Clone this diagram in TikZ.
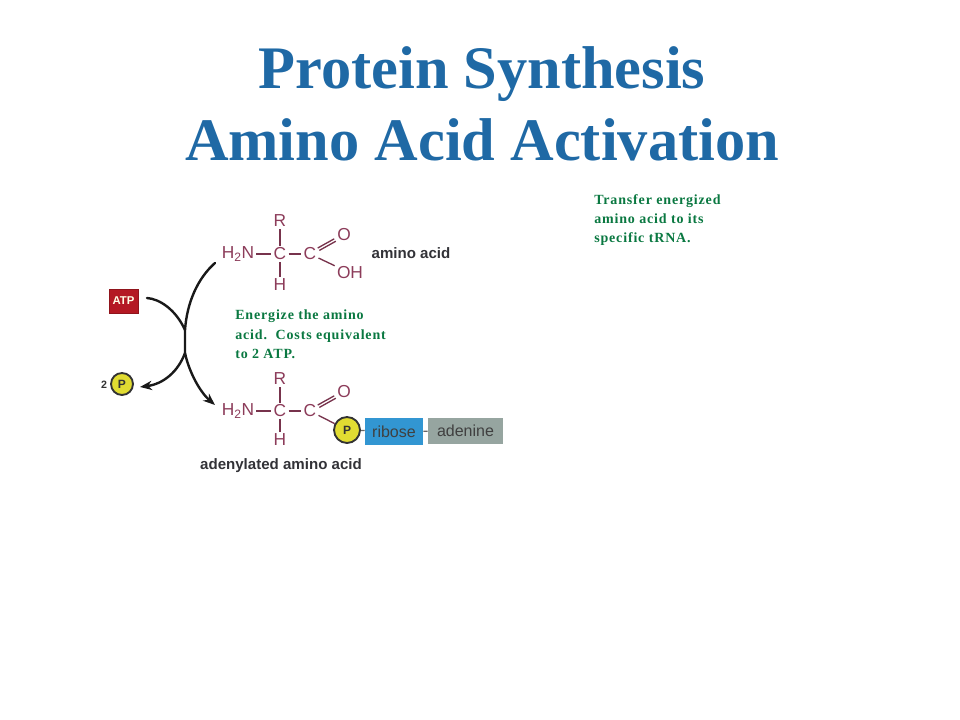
\documentclass[tikz,border=0pt]{standalone}
\usepackage{xcolor}
\usepackage{fontspec}
\setmainfont{Liberation Serif}
\newfontfamily\chemfont{Liberation Sans}
\usetikzlibrary{arrows.meta}
\definecolor{titleblue}{RGB}{31,105,165}
\definecolor{notegreen}{RGB}{10,120,65}
\definecolor{chemred}{RGB}{140,60,90}
\definecolor{atpred}{RGB}{180,25,35}
\definecolor{pyellow}{RGB}{225,220,50}
\definecolor{riboseblue}{RGB}{50,150,210}
\definecolor{adeninegray}{RGB}{150,165,160}
\definecolor{labelgray}{RGB}{50,50,55}
\tikzstyle{title} = [font=\fontsize{45.3}{54}\selectfont\bfseries, text=titleblue, align=center]
\tikzstyle{note} = [anchor=north west, inner sep=0pt, align=left, text=notegreen,
	font=\fontsize{10.5}{14.4}\selectfont\bfseries\addfontfeature{LetterSpace=6}]
\tikzstyle{atom} = [font=\fontsize{13}{14}\selectfont\chemfont, text=chemred, inner sep=1.5pt]
\tikzstyle{bond} = [draw=chemred!85!black, line width=1pt]
\tikzstyle{tag} = [font=\fontsize{11.3}{13}\selectfont\chemfont\bfseries, text=labelgray, inner sep=0pt]
\tikzstyle{phos} = [circle, draw=black!80, line width=1.4pt, fill=pyellow, inner sep=0pt,
	font=\fontsize{9}{10}\selectfont\chemfont\bfseries, text=black!80]
\tikzstyle{unit} = [rectangle, inner sep=0pt, font=\fontsize{12}{14}\selectfont\chemfont, text=black!75]
\tikzstyle{curve} = [draw=black!90, line width=1.8pt, line cap=round]
\begin{document}
\begin{tikzpicture}[x=.75pt,y=-.75pt]
\useasboundingbox (0,0) rectangle (960,720);

\node[title] (head) at (482,104) {Protein Synthesis\\Amino Acid Activation};

\node[note] (note1) at (594,194) {Transfer energized\\amino acid to its\\specific tRNA.};
\node[note] (note2) at (235,310) {Energize the amino\\acid.\ \ Costs equivalent\\to 2 ATP.};

% amino acid
\node[atom] (r1) at (280,221) {R};
\node[atom] (n1) at (238,254) {H\textsubscript{2}N};
\node[atom] (c1) at (280,254) {C};
\node[atom] (h1) at (280,285) {H};
\node[atom] (d1) at (310,254) {C};
\node[atom] (o1) at (344,235) {O};
\node[atom] (oh1) at (350,273) {OH};
\node[tag] (acid) at (411,253) {amino acid};

\draw[bond] (r1) -- (c1);
\draw[bond] (c1) -- (h1);
\draw[bond] (n1) -- (c1);
\draw[bond] (c1) -- (d1);
\draw[bond] (d1) -- (oh1);
\draw[bond,transform canvas={shift={(-.6pt,.9pt)}}] (d1) -- (o1);
\draw[bond,transform canvas={shift={(.6pt,-.9pt)}}] (d1) -- (o1);

% adenylated amino acid
\node[atom] (r2) at (280,379) {R};
\node[atom] (n2) at (238,411) {H\textsubscript{2}N};
\node[atom] (c2) at (280,411) {C};
\node[atom] (h2) at (280,440) {H};
\node[atom] (d2) at (310,411) {C};
\node[atom] (o2) at (344,392) {O};
\node[phos,minimum size=26*.75pt] (p2) at (347,430) {P};
\node[unit,fill=riboseblue,minimum width=58*.75pt,minimum height=27*.75pt] (rib) at (394,431.5) {ribose};
\node[unit,fill=adeninegray,minimum width=75*.75pt,minimum height=26*.75pt] (ade) at (465.5,431) {adenine};
\node[tag] (adeacid) at (281,466) {adenylated amino acid};

\draw[bond] (r2) -- (c2);
\draw[bond] (c2) -- (h2);
\draw[bond] (n2) -- (c2);
\draw[bond] (c2) -- (d2);
\draw[bond] (d2) -- (p2);
\draw[bond,transform canvas={shift={(-.6pt,.9pt)}}] (d2) -- (o2);
\draw[bond,transform canvas={shift={(.6pt,-.9pt)}}] (d2) -- (o2);
\draw[line width=1pt,draw=black!60] (p2) -- (rib);
\draw[line width=1pt,draw=black!60] (rib) -- (ade);

% ATP side
\node[rectangle,fill=atpred,draw=atpred!80!black,minimum width=29*.75pt,minimum height=24*.75pt,inner sep=0pt,
	font=\fontsize{8.5}{10}\selectfont\chemfont\bfseries,text=white!90!yellow] (atp) at (123.5,301) {ATP};
\node[phos,minimum size=22*.75pt] (p1) at (122,384) {P};
\node[font=\fontsize{8}{10}\selectfont\chemfont\bfseries,text=black!80,inner sep=0pt] (two) at (104,385) {2};

\coordinate (top) at (215,263);
\coordinate (mid) at (185,330);
\coordinate (midb) at (185,353);
\coordinate (bot) at (215,405);
\coordinate (atpend) at (147,298);
\coordinate (pend) at (140,387);

\draw[curve] (top) .. controls (198,278) and (187,302) .. (mid) -- (midb);
\draw[curve] (atpend) .. controls (160,299) and (176,310) .. (mid);
\draw[curve,-{Stealth[length=9pt,width=7pt]}] (midb) .. controls (189,372) and (200,392) .. (bot);
\draw[curve,-{Stealth[length=9pt,width=7pt]}] (midb) .. controls (178,372) and (163,384) .. (pend);

\end{tikzpicture}
\end{document}
